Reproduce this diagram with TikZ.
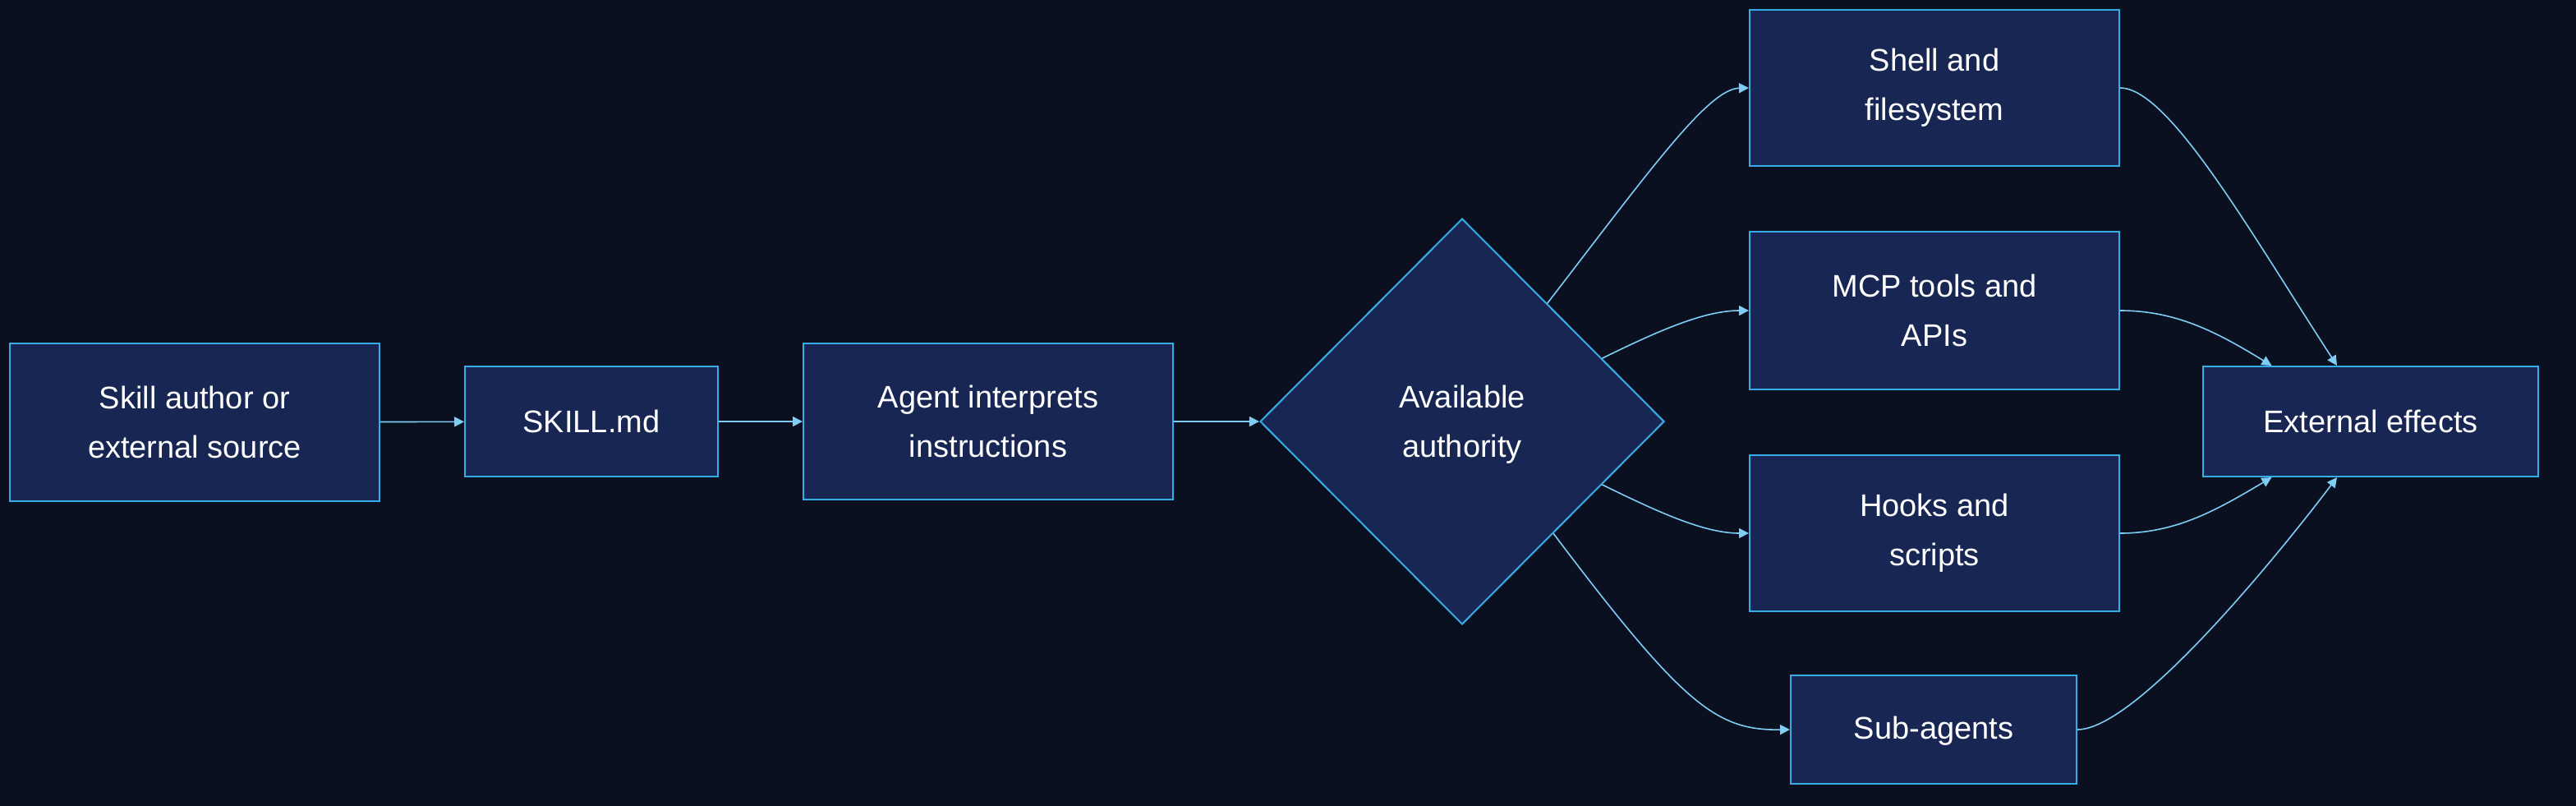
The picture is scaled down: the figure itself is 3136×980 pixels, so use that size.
\documentclass[tikz,border=0pt]{standalone}
\usepackage{fontspec}
\setmainfont{Liberation Sans}
\usetikzlibrary{shapes.geometric,arrows.meta,calc}
\definecolor{bg}{RGB}{11,16,32}
\definecolor{boxfill}{RGB}{24,38,84}
\definecolor{boxline}{RGB}{56,172,230}
\definecolor{edgecol}{RGB}{125,205,245}
\begin{document}
\begin{tikzpicture}[x=0.5pt,y=-0.5pt,
  box/.style={draw=boxline,fill=boxfill,line width=1pt,align=center,text=white,
    font=\fontsize{19}{30}\selectfont,inner sep=0pt},
  flow/.style={draw=edgecol,line width=0.8pt,-{Triangle[length=6pt,width=6pt]}}]
\useasboundingbox (0,0) rectangle (3136,980);
\fill[bg] (-20,-20) rectangle (3156,1000);
\node[box,minimum width=225pt,minimum height=96pt] (src) at (237,514) {Skill author or\\external source};
\node[box,minimum width=154pt,minimum height=67pt] (skill) at (720,513) {SKILL.md};
\node[box,minimum width=225pt,minimum height=95pt] (agent) at (1203,513) {Agent interprets\\instructions};
\node[box,shape=diamond,aspect=1,minimum width=246pt,minimum height=247pt] (dia) at (1780,513) {\raisebox{-2pt}[\height][\depth]{\parbox{100pt}{\centering Available\\authority}}};
\node[box,minimum width=225pt,minimum height=95pt] (shell) at (2355,107) {Shell and\\filesystem};
\node[box,minimum width=225pt,minimum height=96pt] (mcp) at (2355,378) {MCP tools and\\APIs};
\node[box,minimum width=225pt,minimum height=95pt] (hooks) at (2355,649) {Hooks and\\scripts};
\node[box,minimum width=174pt,minimum height=66pt] (sub) at (2354,888) {\raisebox{-1pt}[\height][\depth]{Sub-agents}};
\node[box,minimum width=204pt,minimum height=67pt] (ext) at (2886,513) {External effects};

\draw[flow] (src) -- (skill);
\draw[flow] (skill) -- (agent);
\draw[flow] (agent) -- (dia);

\coordinate (d1) at ($(dia.north)!0.42!(dia.east)$);
\coordinate (d2) at ($(dia.north)!0.69!(dia.east)$);
\coordinate (d3) at ($(dia.east)!0.31!(dia.south)$);
\coordinate (d4) at ($(dia.east)!0.55!(dia.south)$);
\coordinate (e1) at ($(ext.north west)!0.4!(ext.north east)$);
\coordinate (e2) at ($(ext.north west)!0.206!(ext.north east)$);
\coordinate (e3) at ($(ext.south west)!0.206!(ext.south east)$);
\coordinate (e4) at ($(ext.south west)!0.4!(ext.south east)$);

\draw[flow] (d1) .. controls (2010,205) and (2080,108) .. (shell.west);
\draw[flow] (d2) .. controls (2020,402) and (2075,378) .. (mcp.west);
\draw[flow] (d3) .. controls (2020,624) and (2075,649) .. (hooks.west);
\draw[flow] (d4) .. controls (2050,860) and (2090,889) .. (sub.west);

\draw[flow] (shell.east) .. controls (2640,107) and (2738,280) .. (e1);
\draw[flow] (mcp.east) .. controls (2650,378) and (2700,405) .. (e2);
\draw[flow] (hooks.east) .. controls (2650,649) and (2700,620) .. (e3);
\draw[flow] (sub.east) .. controls (2600,888) and (2770,680) .. (e4);
\end{tikzpicture}
\end{document}
